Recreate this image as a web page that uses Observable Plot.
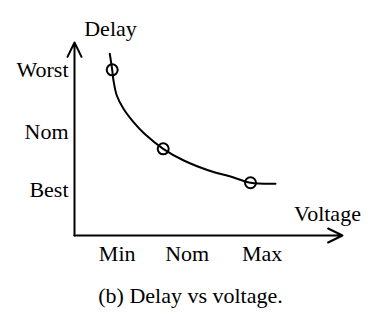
<!DOCTYPE html>
<html>
<head>
<meta charset="utf-8">
<script src="https://cdn.jsdelivr.net/npm/d3@7"></script>
<script src="https://cdn.jsdelivr.net/npm/@observablehq/plot@0.6"></script>
<style>
  html, body { margin: 0; padding: 0; background: white; }
</style>
</head>
<body>
<div id="chart"></div>
<script>
// Curve (arbitrary voltage / delay units)
const voltage = [3.53, 3.77, 3.9, 4.23, 4.9, 5.9, 7.0, 8.87, 10.93, 13.43, 15.6, 17.6, 20.1];
const delay   = [18.64, 16.99, 15.9, 14.36, 12.99, 11.62, 10.43, 8.89, 7.69, 6.67, 6.05, 5.41, 5.30];

// Marked operating points (circles)
const pointVoltage = [3.77, 8.87, 17.6];
const pointDelay   = [16.99, 8.89, 5.41];

// Tick values and labels
const xTickValues = [4.27, 11.27, 18.77];
const xTickLabels = ["Min", "Nom", "Max"];
const yTickValues = [17.03, 10.67, 4.72];
const yTickLabels = ["Worst", "Nom", "Best"];

// Axis extents (arrows)
const xAxisEnd = 26.8;
const yAxisEnd = 19.8;

const xTitle = "Voltage";
const yTitle = "Delay";
const caption = "(b) Delay vs voltage.";

const curve = voltage.map((v, i) => ({v, d: delay[i]}));
const points = pointVoltage.map((v, i) => ({v, d: pointDelay[i]}));
const axes = [
  {x1: 0, y1: 0, x2: xAxisEnd, y2: 0},
  {x1: 0, y1: 0, x2: 0, y2: yAxisEnd}
];

const chart = Plot.plot({
  width: 383,
  height: 314,
  marginLeft: 74,
  marginRight: 39,
  marginTop: 40,
  marginBottom: 79,
  style: {fontFamily: "'Liberation Serif', 'Times New Roman', serif", fontSize: "22px", color: "black", background: "white"},
  x: {domain: [0, 27], ticks: xTickValues, tickFormat: (d, i) => xTickLabels[i], tickSize: 0, tickPadding: 10, label: null},
  y: {domain: [0, 20], ticks: yTickValues, tickFormat: (d, i) => yTickLabels[i], tickSize: 0, tickPadding: 6, label: null},
  marks: [
    Plot.arrow(axes, {x1: "x1", y1: "y1", x2: "x2", y2: "y2", stroke: "black", strokeWidth: 2, headLength: 12, headAngle: 52}),
    Plot.line(curve, {x: "v", y: "d", curve: "catmull-rom", stroke: "black", strokeWidth: 2}),
    Plot.dot(points, {x: "v", y: "d", r: 5.5, stroke: "black", strokeWidth: 2, fill: "none"}),
    Plot.text([yTitle], {frameAnchor: "top-left", dx: 36, dy: -12, textAnchor: "middle", lineAnchor: "middle", fill: "black"}),
    Plot.text([xTitle], {frameAnchor: "bottom-right", dx: -17, dy: -22, textAnchor: "middle", lineAnchor: "middle", fill: "black"}),
    Plot.text([caption], {frameAnchor: "bottom", dx: -19, dy: 60, textAnchor: "middle", lineAnchor: "middle", fill: "black"})
  ]
});
document.getElementById("chart").appendChild(chart);
</script>
</body>
</html>
